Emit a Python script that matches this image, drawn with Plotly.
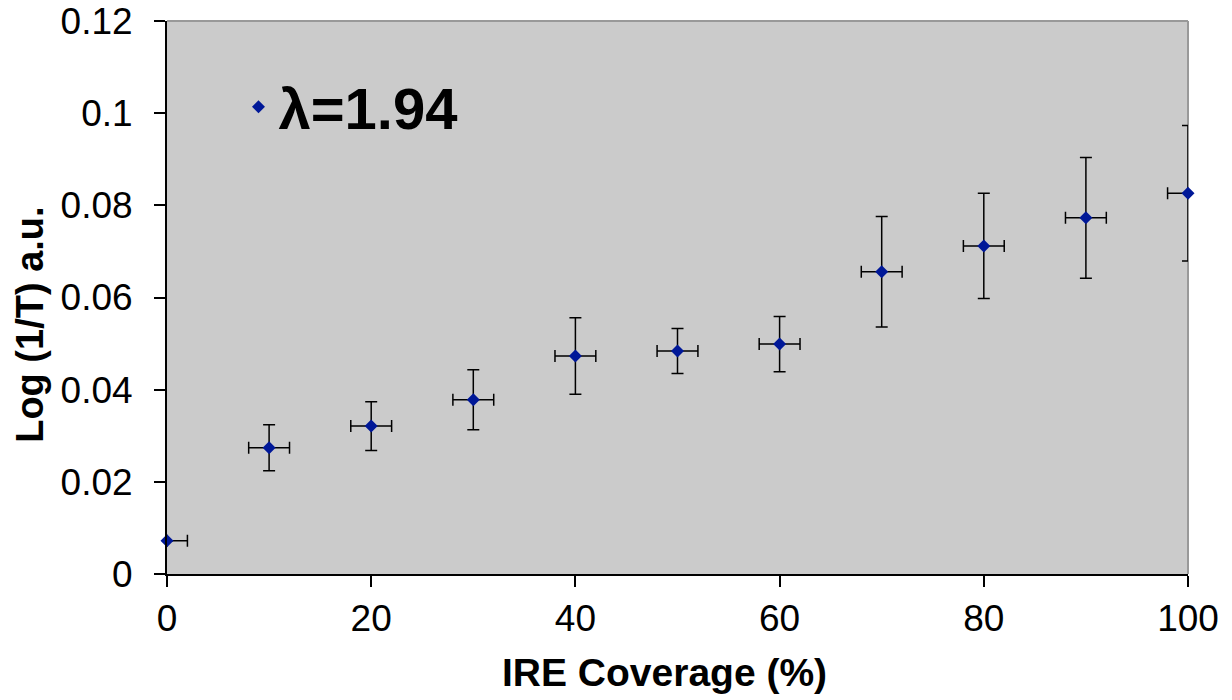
import plotly.graph_objects as go

coverage = [0, 10, 20, 30, 40, 50, 60, 70, 80, 90, 100]
log_inv_t = [0.0072, 0.0274, 0.0321, 0.0378, 0.0473, 0.0484, 0.0499, 0.0656, 0.0712, 0.0773, 0.0826]
y_err = [0.0, 0.0050, 0.0053, 0.0065, 0.0083, 0.0049, 0.0060, 0.0120, 0.0114, 0.0131, 0.0147]
x_err_plus = [2, 2, 2, 2, 2, 2, 2, 2, 2, 2, 0]
x_err_minus = [0, 2, 2, 2, 2, 2, 2, 2, 2, 2, 2]
series_name = "λ=1.94"
x_title = "IRE Coverage (%)"
y_title = "Log (1/T) a.u."

fig = go.Figure()
fig.add_trace(go.Scatter(
    x=coverage, y=log_inv_t, mode="markers", name=series_name,
    marker=dict(symbol="diamond", size=10, color="#001898"),
    error_y=dict(type="data", array=y_err, visible=True, color="black", thickness=1.5, width=6),
    error_x=dict(type="data", array=x_err_plus, arrayminus=x_err_minus, symmetric=False,
                 visible=True, color="black", thickness=1.5, width=6),
    cliponaxis=False, showlegend=True,
))

font_family = "Liberation Sans, Arial, sans-serif"
fig.update_layout(
    width=1232, height=700,
    margin=dict(l=167, r=44, t=21, b=126, autoexpand=False),
    paper_bgcolor="white", plot_bgcolor="#cbcbcb",
    font=dict(family=font_family, color="black"),
    showlegend=True,
    legend=dict(x=0.07, y=0.925, xanchor="left", yanchor="top", bgcolor="rgba(0,0,0,0)",
                font=dict(size=58, family=font_family, weight="bold"), itemsizing="trace"),
    xaxis=dict(range=[0, 100], dtick=20, tick0=0, showgrid=False, zeroline=False,
               showline=True, linecolor="black", linewidth=2, automargin=False,
               ticks="outside", ticklen=11, tickwidth=1.5, tickcolor="black",
               tickfont=dict(size=37), ticklabeloverflow="allow"),
    yaxis=dict(range=[0, 0.12], dtick=0.02, tick0=0, showgrid=False, zeroline=False,
               showline=True, linecolor="black", linewidth=2, automargin=False,
               ticks="outside", ticklen=11, tickwidth=1.5, tickcolor="black",
               tickfont=dict(size=37), ticklabelstandoff=14, ticklabeloverflow="allow"),
    annotations=[
        dict(text=f"<b>{x_title}</b>", xref="paper", yref="paper", x=0.487, y=-0.179,
             xanchor="center", yanchor="middle", showarrow=False, font=dict(size=39)),
        dict(text=f"<b>{y_title}</b>", xref="paper", yref="paper", x=-0.1345, y=0.45,
             xanchor="center", yanchor="middle", textangle=-90, showarrow=False,
             font=dict(size=38)),
    ],
    shapes=[
        dict(type="line", xref="paper", yref="paper", x0=0, x1=1, y0=1, y1=1, layer="below",
             line=dict(color="#999999", width=2)),
        dict(type="line", xref="paper", yref="paper", x0=1, x1=1, y0=0, y1=1, layer="below",
             line=dict(color="#999999", width=2)),
    ],
)

fig.write_html("out.html", config={"displayModeBar": False},
               post_script="document.body.style.margin='0';")
